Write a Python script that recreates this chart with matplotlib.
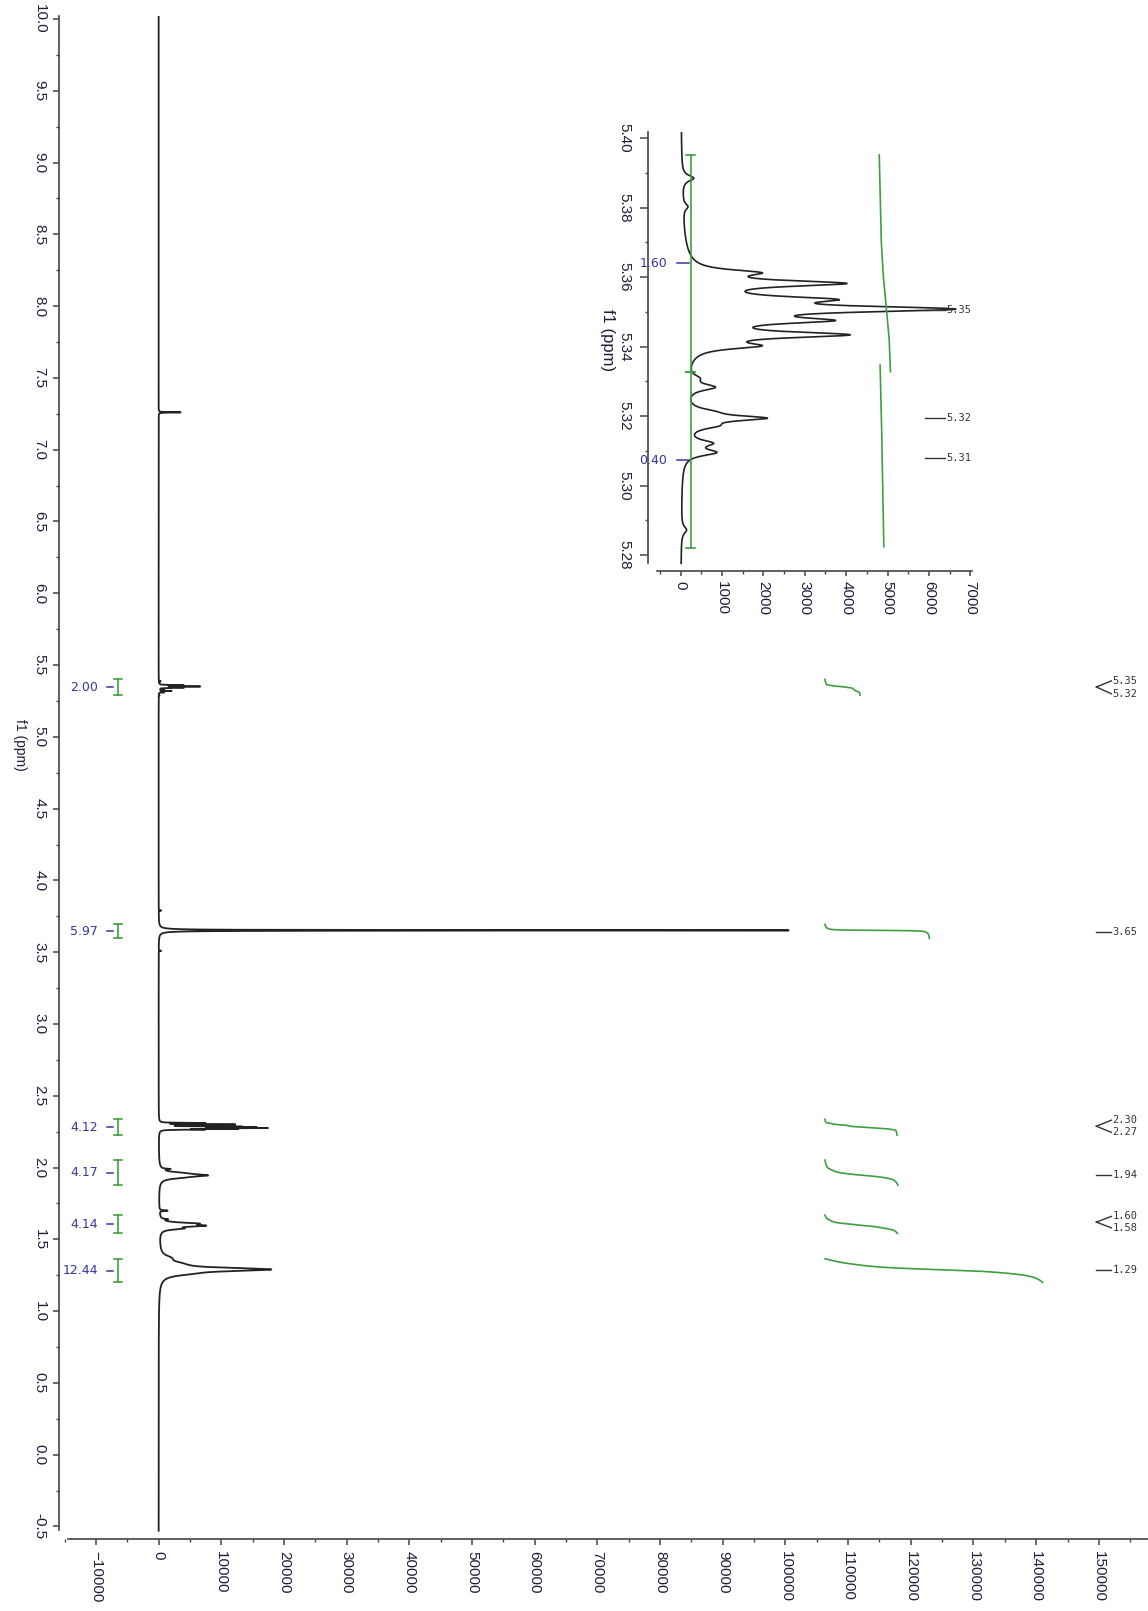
import numpy as np
import matplotlib
matplotlib.use("Agg")
import matplotlib.pyplot as plt
from matplotlib.ticker import MultipleLocator, FormatStrFormatter

plt.rcParams['font.family'] = ['Liberation Sans', 'DejaVu Sans']

# ---------------- data ----------------
# olefinic multiplet: line positions and apparent maxima
olef_ppm = [5.3885, 5.3803, 5.3613, 5.3582, 5.3536, 5.3508, 5.3475, 5.3434, 5.3402,
            5.3309, 5.3283, 5.3213, 5.3194, 5.3172, 5.3122, 5.3095, 5.2872]
olef_max = [320, 180, 1970, 4020, 3820, 6650, 3740, 4100, 1970,
            480, 845, 885, 2100, 950, 800, 880, 145]
olef_hw = [0.0010, 0.0010, 0.0010, 0.0010, 0.0010, 0.0010, 0.0010, 0.0010, 0.0010,
           0.0011, 0.0011, 0.0011, 0.0009, 0.0011, 0.0011, 0.0011, 0.0012]
hump_ppm, hump_height, hump_hw = 5.351, 400, 0.008

# other signals of the main spectrum (ppm, height, half-width in ppm)
peak_ppm = [7.26,
            3.79, 3.652, 3.51,
            2.310, 2.300, 2.295, 2.285, 2.280, 2.275, 2.270, 2.265,
            1.99, 1.96, 1.945, 1.93,
            1.70, 1.64, 1.61, 1.595, 1.575,
            1.37, 1.33, 1.29, 1.26]
peak_height = [3500,
               400, 100500, 400,
               7000, 11000, 9500, 11500, 13000, 15000, 10500, 6000,
               1300, 2500, 6500, 2000,
               1300, 900, 5000, 6000, 3000,
               1200, 2000, 17000, 2500]
peak_hw = [0.0015,
           0.0015, 0.0016, 0.0015,
           0.0015, 0.0015, 0.0015, 0.0015, 0.0015, 0.0015, 0.0015, 0.0015,
           0.003, 0.01, 0.01, 0.01,
           0.003, 0.003, 0.008, 0.008, 0.008,
           0.02, 0.02, 0.014, 0.015]

# integrals (main)
int_values = [2.00, 5.97, 4.12, 4.17, 4.14, 12.44]
int_labels = ["2.00", "5.97", "4.12", "4.17", "4.14", "12.44"]
int_hi = [5.40, 3.694, 2.336, 2.052, 1.669, 1.365]
int_lo = [5.29, 3.596, 2.226, 1.877, 1.541, 1.200]

# peak labels (main)
pk_groups = [["5.35", "5.32"], ["3.65"], ["2.30", "2.27"], ["1.94"], ["1.60", "1.58"], ["1.29"]]
pk_label_ppm = [[5.39, 5.30], [3.642], [2.33, 2.245], [1.95], [1.66, 1.58], [1.285]]
pk_tip_ppm = [5.347, 3.642, 2.288, 1.95, 1.62, 1.285]

# inset annotations
inset_int_labels = ["1.60", "0.40"]
inset_int_hi = [5.3952, 5.3328]
inset_int_lo = [5.3328, 5.2819]
inset_curve1_ppm = [5.3952, 5.3700, 5.3600, 5.3500, 5.3420, 5.3328]
inset_curve1_int = [4800, 4850, 4900, 4980, 5040, 5070]
inset_curve2_ppm = [5.3347, 5.3150, 5.2824]
inset_curve2_int = [4820, 4860, 4910]
inset_pk_labels = ["5.35", "5.32", "5.31"]
inset_pk_ppm = [5.3506, 5.3194, 5.3078]


# ---------------- line shape model ----------------
def lor(x, p, h, w):
    return h * w * w / ((x - p) ** 2 + w * w)


op = np.array(olef_ppm)
ow = np.array(olef_hw)
target = np.array(olef_max, float) - lor(op, hump_ppm, hump_height, hump_hw)
A = ow[None, :] ** 2 / ((op[:, None] - op[None, :]) ** 2 + ow[None, :] ** 2)
olef_h = np.linalg.solve(A, target)


def olefinic(x):
    y = lor(x, hump_ppm, hump_height, hump_hw)
    for p, h, w in zip(op, olef_h, ow):
        y = y + lor(x, p, h, w)
    return y


# ---------------- figure ----------------
W, H = 1148, 1611
fig = plt.figure(figsize=(W / 100, H / 100), dpi=100)

ink = '#333333'
tickc = '#1e1e3c'
blue = '#3535a0'
green = '#3f9f3f'

x_left, x_right = 59.3, 1149.0
y_top, y_bot = 16.1, 1538.7
ax = fig.add_axes([x_left / W, 1 - y_bot / H, (x_right - x_left) / W, (y_bot - y_top) / H])
ax.set_xlim(-15850, 158000)
ax.set_ylim(-0.585, 10.02)

ppm = np.arange(-0.53, 10.02, 0.00025)
spec = olefinic(ppm)
for p, h, w in zip(peak_ppm, peak_height, peak_hw):
    spec += lor(ppm, p, h, w)
ax.plot(spec, ppm, color='#222222', lw=1.3)

for s in ['top', 'right']:
    ax.spines[s].set_visible(False)
ax.spines['left'].set_bounds(-0.525, 10.02)
ax.spines['bottom'].set_bounds(-14500, 158000)
for s in ['left', 'bottom']:
    ax.spines[s].set_color('#444444')
    ax.spines[s].set_linewidth(1.2)

ax.xaxis.set_major_locator(MultipleLocator(10000))
ax.xaxis.set_minor_locator(MultipleLocator(5000))
ax.yaxis.set_major_locator(MultipleLocator(0.5))
ax.yaxis.set_minor_locator(MultipleLocator(0.25))
ax.yaxis.set_major_formatter(FormatStrFormatter('%.1f'))
ax.tick_params(axis='both', which='major', direction='out', length=4.3, width=1.1,
               color='#444444', labelsize=11, labelcolor=tickc, pad=4.8)
ax.tick_params(axis='both', which='minor', direction='out', length=2.5, width=1.0,
               color='#444444')
ax.set_xticks(ax.get_xticks())
ax.set_xticklabels([("\u2212%d" % -v if v < 0 else "%d" % v) for v in ax.get_xticks()])
for lab in ax.get_xticklabels():
    lab.set_rotation(-90)
    lab.set_va('top')
    lab.set_ha('center')
for lab in ax.get_yticklabels():
    lab.set_rotation(-90)
    lab.set_va('center')
    lab.set_ha('right')
ax.set_xlim(-15850, 158000)

fig.text(20 / W, 1 - 745 / H, "f1 (ppm)", rotation=-90, ha='center', va='center',
         fontsize=10, color=tickc)

# integrals: brackets, labels, curves
bx = -6440
for val, lab, hi, lo in zip(int_values, int_labels, int_hi, int_lo):
    ax.plot([bx, bx], [lo, hi], color=green, lw=1.2)
    ax.plot([bx - 650, bx + 650], [hi, hi], color=green, lw=1.2)
    ax.plot([bx - 650, bx + 650], [lo, lo], color=green, lw=1.2)
    mid = (hi + lo) / 2
    ax.plot([-8300, -7250], [mid, mid], color=blue, lw=1.1)
    ax.text(-9700, mid, lab, color=blue, fontsize=9, ha='right', va='center',
            family='DejaVu Sans')
    m = (ppm <= hi) & (ppm >= lo)
    pp = ppm[m][::-1]
    cum = np.cumsum(spec[m][::-1])
    cum = cum / cum[-1] * val * 2791 + 106300
    ax.plot(cum, pp, color=green, lw=1.2)

# peak labels
for labs, lp, tip in zip(pk_groups, pk_label_ppm, pk_tip_ppm):
    if len(labs) == 1:
        ax.plot([149600, 152000], [tip, tip], color=ink, lw=1.0, clip_on=False)
        ax.text(152200, lp[0], labs[0], fontsize=7.5, color=ink, ha='left', va='center',
                family='DejaVu Sans Mono', clip_on=False)
    else:
        for t, y in zip(labs, lp):
            ax.plot([149600, 152000], [tip, y], color=ink, lw=1.0, clip_on=False)
            ax.text(152200, y, t, fontsize=7.5, color=ink, ha='left', va='center',
                    family='DejaVu Sans Mono', clip_on=False)

# ---------------- inset ----------------
ix_left, ix_right = 648.3, 972.8
iy_top, iy_bot = 131.7, 571.0
ax2 = fig.add_axes([ix_left / W, 1 - iy_bot / H, (ix_right - ix_left) / W, (iy_bot - iy_top) / H])
ax2.patch.set_alpha(0)
ax2.set_xlim(-780, 7060)
ax2.set_ylim(5.2754, 5.4019)
ippm = np.arange(5.2776, 5.4019, 0.00004)
ax2.plot(olefinic(ippm), ippm, color='#222222', lw=1.2)
for s in ['top', 'right']:
    ax2.spines[s].set_visible(False)
ax2.spines['left'].set_bounds(5.2777, 5.4019)
ax2.spines['bottom'].set_bounds(-570, 7040)
for s in ['left', 'bottom']:
    ax2.spines[s].set_color('#444444')
    ax2.spines[s].set_linewidth(1.2)
ax2.xaxis.set_major_locator(MultipleLocator(1000))
ax2.xaxis.set_minor_locator(MultipleLocator(500))
ax2.yaxis.set_major_locator(MultipleLocator(0.02))
ax2.yaxis.set_minor_locator(MultipleLocator(0.01))
ax2.yaxis.set_major_formatter(FormatStrFormatter('%.2f'))
ax2.xaxis.set_major_formatter(FormatStrFormatter('%d'))
ax2.tick_params(axis='y', which='major', direction='out', length=6, width=1.1,
                color='#444444', labelsize=11, labelcolor=tickc, pad=6, labelrotation=-90)
ax2.tick_params(axis='x', which='major', direction='out', length=3.6, width=1.1,
                color='#444444', labelsize=11, labelcolor=tickc, pad=3.6, labelrotation=-90)
ax2.tick_params(axis='both', which='minor', direction='out', length=2.5, width=1.0,
                color='#444444')
for lab in ax2.get_yticklabels():
    lab.set_va('center')
fig.text(608 / W, 1 - 340 / H, "f1 (ppm)", rotation=-90, ha='center', va='center',
         fontsize=12, color=tickc)

ibx = 240
for lab, hi, lo in zip(inset_int_labels, inset_int_hi, inset_int_lo):
    ax2.plot([ibx, ibx], [lo, hi], color=green, lw=1.2)
    ax2.plot([ibx - 100, ibx + 100], [hi, hi], color=green, lw=1.2)
    ax2.plot([ibx - 100, ibx + 100], [lo, lo], color=green, lw=1.2)
    mid = (hi + lo) / 2
    ax2.plot([-80, 200], [mid, mid], color=blue, lw=1.1)
    ax2.text(-330, mid, lab, color=blue, fontsize=9, ha='right', va='center',
             family='DejaVu Sans', clip_on=False)
ax2.plot(inset_curve1_int, inset_curve1_ppm, color=green, lw=1.2)
ax2.plot(inset_curve2_int, inset_curve2_ppm, color=green, lw=1.2)
for t, y in zip(inset_pk_labels, inset_pk_ppm):
    ax2.plot([5900, 6380], [y, y], color=ink, lw=1.0)
    ax2.text(6430, y, t, fontsize=7.5, color=ink, ha='left', va='center',
             family='DejaVu Sans Mono', clip_on=False)

fig.savefig("out.png", dpi=100, facecolor='white')
